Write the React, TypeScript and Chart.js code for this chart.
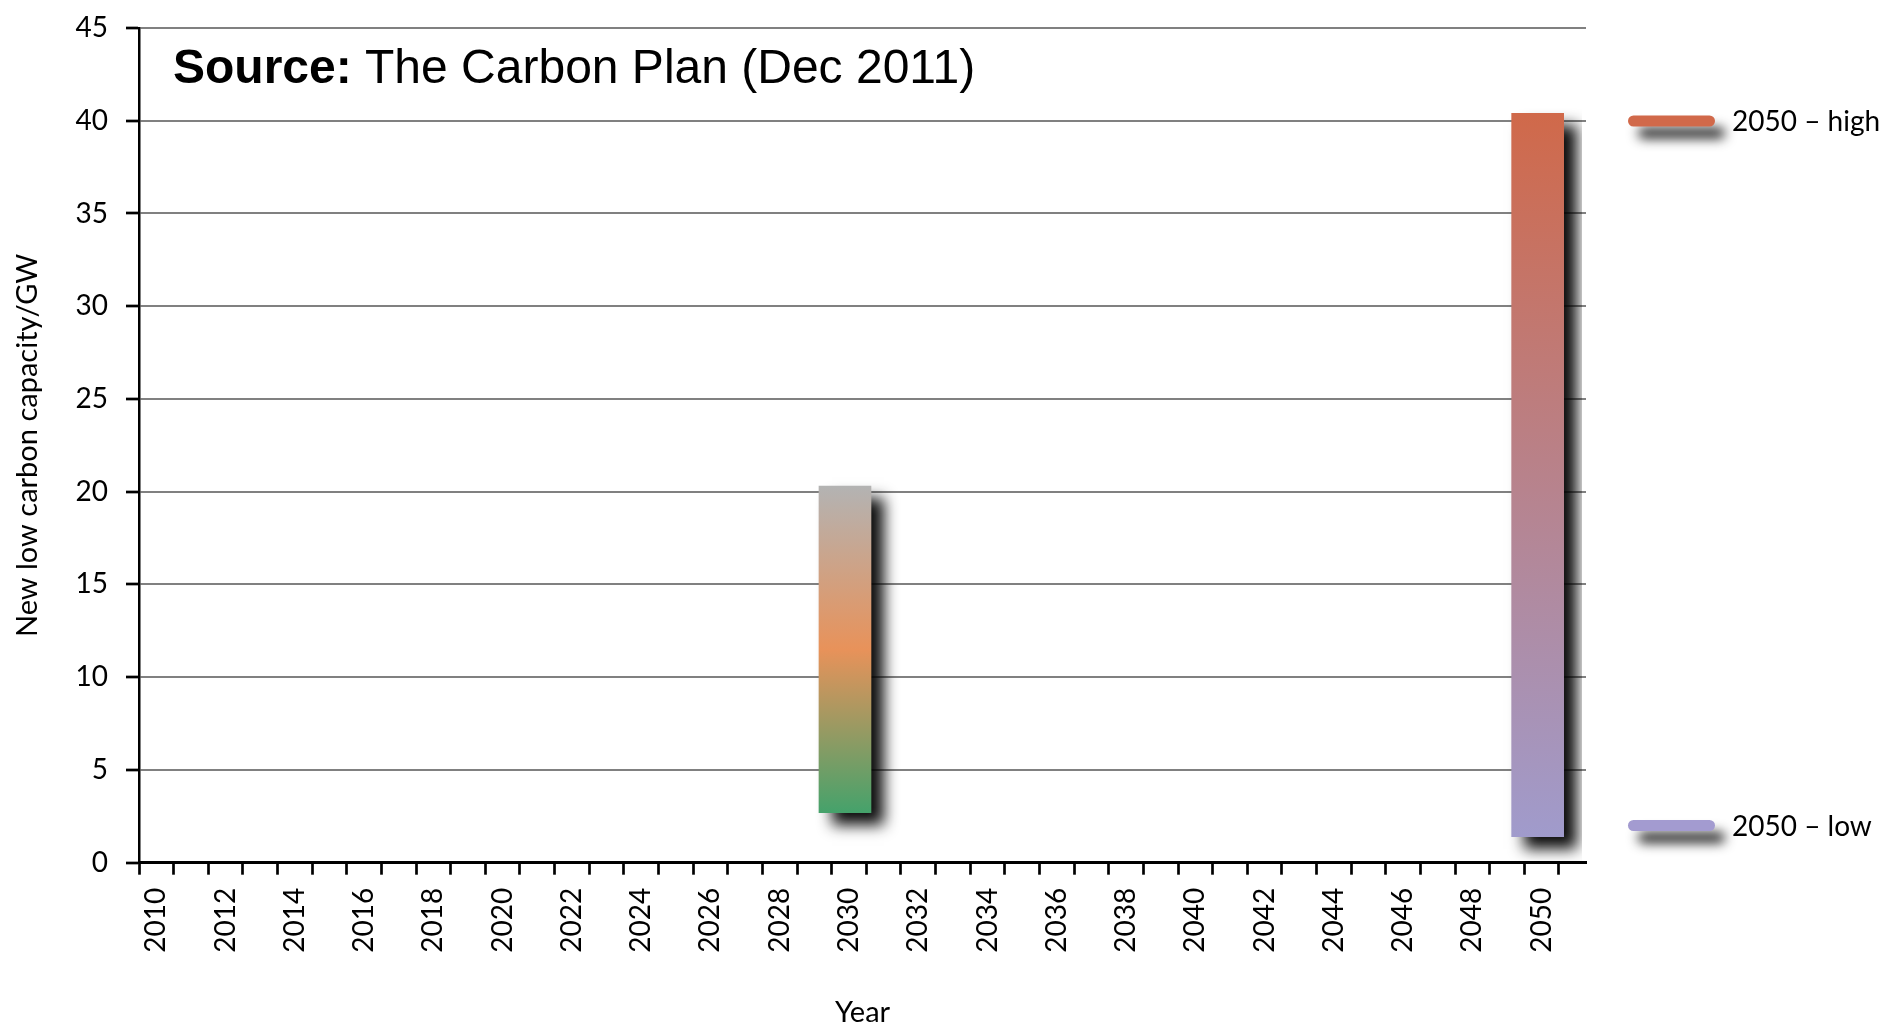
import { useEffect, useRef } from 'react';
import { Chart, registerables } from 'chart.js';

Chart.register(...registerables);

// ---- data ----
const YEARS = [
  2010, 2011, 2012, 2013, 2014, 2015, 2016, 2017, 2018, 2019, 2020,
  2021, 2022, 2023, 2024, 2025, 2026, 2027, 2028, 2029, 2030,
  2031, 2032, 2033, 2034, 2035, 2036, 2037, 2038, 2039, 2040,
  2041, 2042, 2043, 2044, 2045, 2046, 2047, 2048, 2049, 2050,
];
const BAR_YEARS = [2030, 2050];
const BAR_LOW = [2.7, 1.4];
const BAR_HIGH = [20.3, 40.4];
const Y_MIN = 0;
const Y_MAX = 45;
const Y_STEP = 5;
const X_MIN = 2009.5;
const X_MAX = 2051.28;

const LEGEND_LABELS = ['2050 \u2013 high', '2050 \u2013 low'];
const TITLE_BOLD = 'Source:';
const TITLE_REST = 'The Carbon Plan (Dec 2011)';
const Y_TITLE = 'New low carbon capacity/GW';
const X_TITLE = 'Year';

// ---- styles ----
const BAR_GRADIENTS = [
  ['#b3b3b3', '#e8925a', '#45a26b'],
  ['#d0694a', '#a09bcc'],
];
const LEGEND_COLORS = ['#d1694a', '#a39bd0'];
const NARROW = "Lato, 'Open Sans', sans-serif";
const ARIAL = "'Liberation Sans', Arial, sans-serif";

const shadowPlugin = {
  id: 'barShadow',
  beforeDatasetsDraw(chart: any) {
    const c = chart.ctx;
    c.save();
    c.translate(-4, 0);
    c.shadowColor = 'rgba(0,0,0,0.95)';
    c.shadowBlur = 14;
    c.shadowOffsetX = 13;
    c.shadowOffsetY = 12;
  },
  afterDatasetsDraw(chart: any) {
    chart.ctx.restore();
  },
};

const overlayPlugin = {
  id: 'overlay',
  afterDraw(chart: any) {
    const c = chart.ctx;
    const area = chart.chartArea;
    c.save();
    // title inside plot
    c.fillStyle = '#000';
    c.textAlign = 'left';
    c.textBaseline = 'alphabetic';
    const tx = area.left + 34;
    const ty = area.top + 54.5;
    c.font = `bold 48px ${ARIAL}`;
    c.fillText(TITLE_BOLD, tx, ty);
    const w = c.measureText(TITLE_BOLD + ' ').width;
    c.font = `48px ${ARIAL}`;
    c.fillText(TITLE_REST, tx + w, ty);

    // legend at right
    const ys = [121, 825.5];
    LEGEND_LABELS.forEach((label, i) => {
      const y = ys[i];
      c.save();
      c.shadowColor = 'rgba(0,0,0,0.85)';
      c.shadowBlur = 12;
      c.shadowOffsetX = 10;
      c.shadowOffsetY = 12;
      c.strokeStyle = LEGEND_COLORS[i];
      c.lineWidth = 11;
      c.lineCap = 'round';
      c.beginPath();
      c.moveTo(area.right + 47.5, y);
      c.lineTo(area.right + 123.5, y);
      c.stroke();
      c.restore();
      c.fillStyle = '#000';
      c.font = `28px ${NARROW}`;
      c.textBaseline = 'alphabetic';
      c.fillText(label, area.right + 146, y + 10);
    });
    c.restore();
  },
};

export default function App() {
  const ref = useRef<HTMLCanvasElement>(null);

  useEffect(() => {
    const canvas = ref.current;
    if (!canvas) return;
    const data = BAR_YEARS.map((x, i) => ({ x, y: [BAR_LOW[i], BAR_HIGH[i]] }));
    const chart = new Chart(canvas, {
      type: 'bar',
      data: {
        datasets: [
          {
            data: data as any,
            barThickness: 52,
            borderWidth: 0,
            backgroundColor: (ctx: any) => {
              const i = ctx.dataIndex ?? 0;
              const stops = BAR_GRADIENTS[i] || BAR_GRADIENTS[0];
              const chartRef = ctx.chart;
              const ys = chartRef.scales && chartRef.scales.y;
              if (!ys || !chartRef.chartArea || ctx.type !== 'data') return stops[0];
              const top = ys.getPixelForValue(BAR_HIGH[i]);
              const bot = ys.getPixelForValue(BAR_LOW[i]);
              const g = chartRef.ctx.createLinearGradient(0, top, 0, bot);
              stops.forEach((col: string, k: number) => g.addColorStop(k / (stops.length - 1), col));
              return g;
            },
          },
        ],
      },
      options: {
        responsive: false,
        devicePixelRatio: 1,
        animation: false,
        events: [],
        layout: { padding: { left: 0, right: 297, top: 28, bottom: 0 } },
        plugins: {
          legend: { display: false },
          tooltip: { enabled: false },
          title: { display: false },
        },
        scales: {
          x: {
            type: 'linear',
            offset: false,
            bounds: 'data',
            min: X_MIN,
            max: X_MAX,
            afterBuildTicks: (scale: any) => {
              scale.ticks = YEARS.map((v) => ({ value: v }));
            },
            afterFit: (scale: any) => {
              scale.height = 164.3;
              scale.paddingLeft = 0;
              scale.paddingRight = 0;
            },
            grid: {
              offset: true,
              drawOnChartArea: false,
              drawTicks: true,
              tickLength: 12,
              tickWidth: 2.7,
              tickColor: '#000',
            },
            border: { color: '#000', width: 3 },
            ticks: {
              autoSkip: false,
              maxRotation: 90,
              minRotation: 90,
              padding: 13,
              color: '#000',
              font: { family: NARROW, size: 28 },
              callback: (v: any) => (Number(v) % 2 === 0 ? String(v) : ''),
            },
            title: {
              display: true,
              text: X_TITLE,
              color: '#000',
              font: { family: NARROW, size: 29, lineHeight: 1 },
              padding: { top: 0, bottom: 0 },
            },
          },
          y: {
            type: 'linear',
            min: Y_MIN,
            max: Y_MAX,
            afterFit: (scale: any) => {
              scale.width = 139;
              scale.paddingTop = 0;
              scale.paddingBottom = 0;
            },
            grid: {
              color: '#808080',
              lineWidth: 2,
              drawTicks: true,
              tickLength: 13,
              tickWidth: 2.7,
              tickColor: '#000',
            },
            border: { color: '#000', width: 2.5 },
            ticks: {
              stepSize: Y_STEP,
              padding: 18,
              color: '#000',
              font: { family: NARROW, size: 28 },
            },
            title: {
              display: true,
              text: Y_TITLE,
              color: '#000',
              font: { family: NARROW, size: 29, lineHeight: 1 },
              padding: { top: 13, bottom: 0 },
            },
          },
        },
      } as any,
      plugins: [shadowPlugin, overlayPlugin],
    });
    return () => chart.destroy();
  }, []);

  return (
    <div style={{ position: 'fixed', left: 0, top: 0, width: 1883, height: 1027, background: '#fff' }}>
      <canvas ref={ref} width={1883} height={1027} style={{ display: 'block', width: 1883, height: 1027 }} />
    </div>
  );
}
